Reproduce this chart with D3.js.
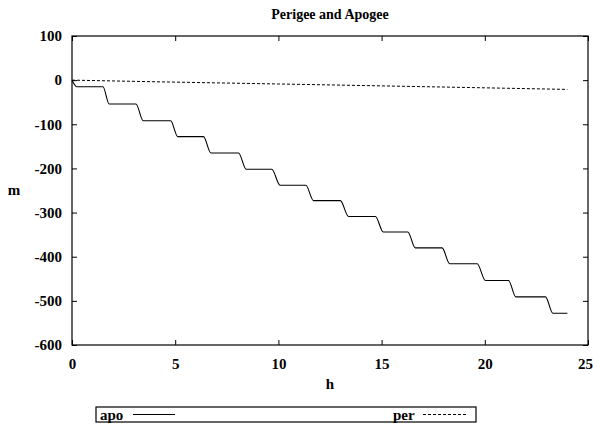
<!DOCTYPE html>
<html>
<head>
<meta charset="utf-8">
<script src="https://cdn.jsdelivr.net/npm/d3@7"></script>
<style>
  body { margin: 0; background: #fff; }
  text { font-family: "Liberation Serif", "Times New Roman", serif; font-weight: bold; fill: #000; }
</style>
</head>
<body>
<script>
// chart size
var w = 593, h = 427;
var margin = { left: 72, right: 5, top: 36, bottom: 82 };

var apoHours = [0, 0.25, 1.5, 1.8, 3.1, 3.45, 4.78, 5.12, 6.37, 6.73, 8.07, 8.44, 9.68, 10.08,
    11.33, 11.7, 13.0, 13.4, 14.7, 15.08, 16.27, 16.63, 17.93, 18.3, 19.63, 20.03,
    21.15, 21.5, 22.94, 23.3, 24];
var apoValues = [0, -15, -15, -54, -54, -92, -92, -128, -128, -165, -165, -202, -202, -238,
    -238, -273, -273, -309, -309, -344, -344, -380, -380, -416, -416, -454,
    -454, -491, -491, -528, -528];
// perigee: slow drift
var perHours = [0, 5, 10, 15, 20, 24];
var perValues = [0, -4.5, -8.7, -13, -17.4, -21];
var xTicks = [0, 5, 10, 15, 20, 25];
var yTicks = [100, 0, -100, -200, -300, -400, -500, -600];

window.onload = function(){
    var svg = d3.select("body").append("svg")
        .attr("width", w)
        .attr("height", h);

    var x = d3.scaleLinear().domain([0, 25]).range([margin.left, w - margin.right]);
    var y = d3.scaleLinear().domain([-600, 100]).range([h - margin.bottom, margin.top]);

    // plain hyphen minus like gnuplot, not d3's unicode one
    var fmt = function(d){ return String(d); };

    // title
    svg.append("text")
        .attr("x", (x(0) + x(25)) / 2)
        .attr("y", 19)
        .attr("text-anchor", "middle")
        .style("font-size", "14px")
        .text("Perigee and Apogee");

    // ticks point inward on all four sides (gnuplot look)
    var bottom = svg.append("g")
        .attr("transform", "translate(0," + y(-600) + ")")
        .call(d3.axisBottom(x).tickValues(xTicks).tickSize(-5).tickPadding(10).tickFormat(fmt));
    var left = svg.append("g")
        .attr("transform", "translate(" + x(0) + ",0)")
        .call(d3.axisLeft(y).tickValues(yTicks).tickSize(-5).tickPadding(10).tickFormat(fmt));
    svg.append("g")
        .attr("transform", "translate(0," + y(100) + ")")
        .call(d3.axisTop(x).tickValues(xTicks).tickSize(-5).tickFormat(""));
    svg.append("g")
        .attr("transform", "translate(" + x(25) + ",0)")
        .call(d3.axisRight(y).tickValues(yTicks).tickSize(-5).tickFormat(""));

    svg.selectAll(".domain").remove();
    svg.selectAll(".tick line").attr("stroke", "#000");
    svg.selectAll(".tick text")
        .style("font-size", "15px")
        .style("font-family", "Liberation Serif, serif")
        .style("font-weight", "bold");
    bottom.selectAll(".tick text").attr("dy", "0.9em");
    // last x label sits at the page edge, pull it in a bit
    bottom.selectAll(".tick text").filter(function(d){ return d === 25; })
        .attr("dx", "-3");

    // plot border
    svg.append("rect")
        .attr("x", x(0))
        .attr("y", y(100))
        .attr("width", x(25) - x(0))
        .attr("height", y(-600) - y(100))
        .attr("fill", "none")
        .attr("stroke", "#000")
        .attr("stroke-width", 1.2);

    // axis labels
    svg.append("text")
        .attr("x", (x(0) + x(25)) / 2)
        .attr("y", 389)
        .attr("text-anchor", "middle")
        .style("font-size", "15px")
        .text("h");
    svg.append("text")
        .attr("x", 14)
        .attr("y", (y(100) + y(-600)) / 2 + 4)
        .attr("text-anchor", "middle")
        .style("font-size", "15px")
        .text("m");

    var line = d3.line()
        .x(function(d){ return x(d[0]); })
        .y(function(d){ return y(d[1]); })
        .curve(d3.curveMonotoneX);

    var apo = d3.zip(apoHours, apoValues);
    var per = d3.zip(perHours, perValues);

    svg.append("path")
        .datum(apo)
        .attr("d", line)
        .attr("fill", "none")
        .attr("stroke", "#000")
        .attr("stroke-width", 1.1);

    svg.append("path")
        .datum(per)
        .attr("d", line)
        .attr("fill", "none")
        .attr("stroke", "#000")
        .attr("stroke-width", 1)
        .attr("stroke-dasharray", "3,2");

    // legend
    var legend = svg.append("g");
    legend.append("rect")
        .attr("x", 96).attr("y", 407)
        .attr("width", 380).attr("height", 15)
        .attr("fill", "none")
        .attr("stroke", "#000")
        .attr("stroke-width", 1.2);
    legend.append("text").attr("x", 100).attr("y", 419.5)
        .style("font-size", "15px").text("apo");
    legend.append("line")
        .attr("x1", 133).attr("x2", 175).attr("y1", 414.5).attr("y2", 414.5)
        .attr("stroke", "#000");
    legend.append("text").attr("x", 393).attr("y", 419.5)
        .style("font-size", "15px").text("per");
    legend.append("line")
        .attr("x1", 423).attr("x2", 467).attr("y1", 414.5).attr("y2", 414.5)
        .attr("stroke", "#000")
        .attr("stroke-dasharray", "3,2");
};
</script>
</body>
</html>
